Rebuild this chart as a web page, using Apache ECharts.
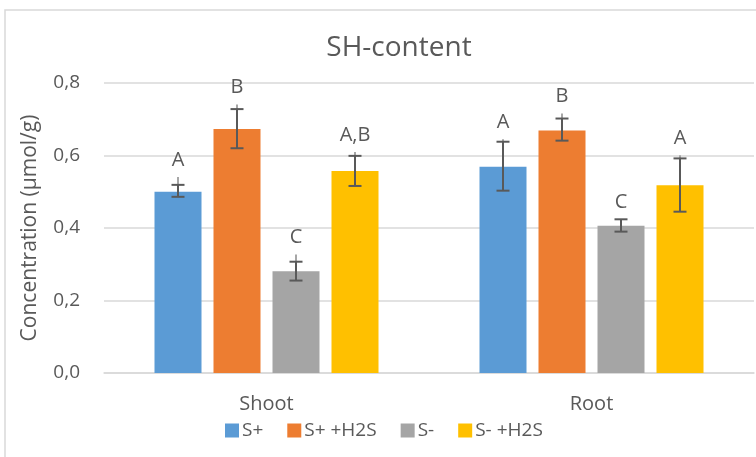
<!DOCTYPE html>
<html>
<head>
<meta charset="utf-8">
<script src="https://cdn.jsdelivr.net/npm/echarts@6/dist/echarts.min.js"></script>
<style>
  html, body { margin: 0; padding: 0; background: #fff; }
  #main { width: 756px; height: 457px; }
</style>
</head>
<body>
<div id="main"></div>
<script>
// data
var categories = ['Shoot', 'Root'];
var seriesNames = ['S+', 'S+ +H2S', 'S-', 'S- +H2S'];
var colors = ['#5B9BD5', '#ED7D31', '#A5A5A5', '#FFC000'];
// mean values, per series: [Shoot, Root]
var valS = [0.500, 0.569];
var valSH2S = [0.673, 0.669];
var valSm = [0.281, 0.406];
var valSmH2S = [0.557, 0.518];
// error bar low / high (capped) and light upper extension
var errLo = [[0.486, 0.503], [0.620, 0.641], [0.255, 0.390], [0.516, 0.445]];
var errHi = [[0.519, 0.638], [0.728, 0.702], [0.307, 0.424], [0.599, 0.592]];
var errExt = [[0.541, 0.645], [0.741, 0.716], [0.327, 0.424], [0.610, 0.601]];
// significance letters
var letters = [['A', 'A'], ['B', 'B'], ['C', 'C'], ['A,B', 'A']];
var yTicks = [0, 0.2, 0.4, 0.6, 0.8];

var values = [valS, valSH2S, valSm, valSmH2S];
var font = 'Open Sans';
var textColor = '#595959';
var barW = 47, barStep = 59;

var chart = echarts.init(document.getElementById('main'));

var errData = [];
for (var s = 0; s < 4; s++) {
  for (var c = 0; c < categories.length; c++) {
    errData.push([c, s, errLo[s][c], errHi[s][c], errExt[s][c], letters[s][c]]);
  }
}

var series = seriesNames.map(function (name, i) {
  return {
    name: name,
    type: 'bar',
    data: values[i],
    barWidth: barW,
    barGap: ((barStep - barW) / barW * 100) + '%',
    itemStyle: { color: colors[i] },
    z: 2
  };
});

series.push({
  type: 'custom',
  z: 5,
  silent: true,
  data: errData,
  encode: { x: 0, y: [2, 3, 4] },
  renderItem: function (params, api) {
    var cx = api.coord([api.value(0), 0])[0] + (api.value(1) - 1.5) * barStep;
    var yLo = api.coord([api.value(0), api.value(2)])[1];
    var yHi = api.coord([api.value(0), api.value(3)])[1];
    var yExt = api.coord([api.value(0), api.value(4)])[1];
    var txt = errData[params.dataIndex][5];
    var cap = 6.5;
    var dark = { stroke: '#595959', lineWidth: 2 };
    return {
      type: 'group',
      children: [
        { type: 'line', shape: { x1: cx, y1: yExt, x2: cx, y2: yHi }, style: { stroke: '#a6a6a6', lineWidth: 2 } },
        { type: 'line', shape: { x1: cx, y1: yHi, x2: cx, y2: yLo }, style: dark },
        { type: 'line', shape: { x1: cx - cap, y1: yHi, x2: cx + cap, y2: yHi }, style: dark },
        { type: 'line', shape: { x1: cx - cap, y1: yLo, x2: cx + cap, y2: yLo }, style: dark },
        { type: 'text', x: cx, y: yExt - 17, style: { text: txt, fill: textColor, font: '20px "' + font + '"', align: 'center', verticalAlign: 'middle' } }
      ]
    };
  }
});

var option = {
  animation: false,
  textStyle: { fontFamily: font },
  title: {
    text: 'SH-content',
    left: 394,
    textAlign: 'center',
    top: 29,
    textStyle: { fontFamily: font, fontSize: 28, fontWeight: 'normal', color: textColor }
  },
  legend: {
    data: seriesNames,
    left: 220,
    top: 416,
    itemWidth: 14,
    itemHeight: 14,
    itemGap: 24,
    icon: 'rect',
    textStyle: { fontFamily: font, fontSize: 19, color: textColor, padding: [0, 0, 0, -2] }
  },
  graphic: [{
    type: 'rect',
    shape: { x: 5, y: 10, width: 900, height: 600 },
    style: { fill: 'none', stroke: '#d9d9d9', lineWidth: 1.5 },
    silent: true,
    z: -1
  }],
  grid: { left: 104, right: 2, top: 83, bottom: 84 },
  xAxis: {
    type: 'category',
    data: categories,
    axisTick: { show: false },
    axisLine: { lineStyle: { color: '#d9d9d9', width: 1.5 } },
    axisLabel: { fontFamily: font, fontSize: 20, color: textColor, margin: 21 }
  },
  yAxis: {
    type: 'value',
    min: yTicks[0],
    max: yTicks[yTicks.length - 1],
    interval: 0.2,
    name: 'Concentration (µmol/g)',
    nameLocation: 'middle',
    nameGap: 63,
    nameTextStyle: { fontFamily: font, fontSize: 21, color: textColor },
    axisLine: { show: false },
    axisTick: { show: false },
    splitLine: { lineStyle: { color: '#d9d9d9', width: 1.5 } },
    axisLabel: {
      fontFamily: font, fontSize: 19, color: textColor, margin: 24,
      formatter: function (v) { return v.toFixed(1).replace('.', ','); }
    }
  },
  series: series
};

chart.setOption(option);
</script>
</body>
</html>
